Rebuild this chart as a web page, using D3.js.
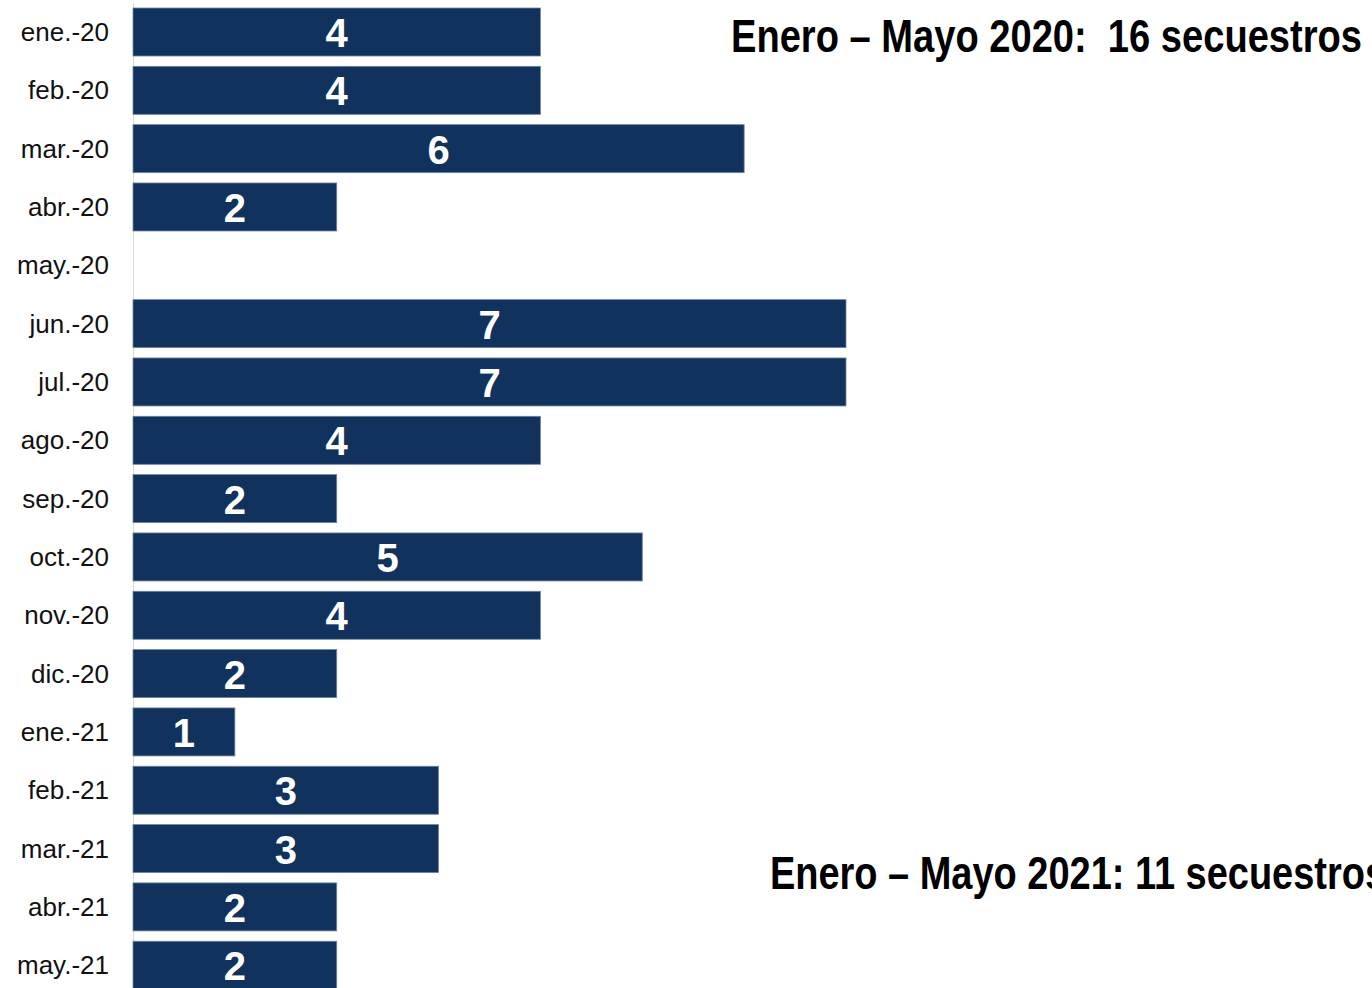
<!DOCTYPE html>
<html><head><meta charset="utf-8">
<script src="https://cdn.jsdelivr.net/npm/d3@7"></script>
<style>html,body{margin:0;padding:0;background:#fff;overflow:hidden}svg{display:block}</style>
</head><body><svg id="c" width="1372" height="988"></svg>
<script>
const months = ["ene.-20","feb.-20","mar.-20","abr.-20","may.-20","jun.-20","jul.-20","ago.-20","sep.-20","oct.-20","nov.-20","dic.-20","ene.-21","feb.-21","mar.-21","abr.-21","may.-21"];
const values = [4,4,6,2,0,7,7,4,2,5,4,2,1,3,3,2,2];
const titles = ["Enero – Mayo 2020:  16 secuestros","Enero – Mayo 2021: 11 secuestros"];

const svg = d3.select("#c");
const x = d3.scaleLinear().domain([0,7]).range([133,846]);
const y = d3.scaleBand().domain(months).range([2.84,994.4]).paddingInner(0.177).paddingOuter(0.0885);

svg.append("line").attr("x1",133.5).attr("x2",133.5).attr("y1",3).attr("y2",988)
  .attr("stroke","#d9d9d9").attr("stroke-width",1);

const g = svg.append("g");
g.selectAll("rect").data(months.map((m,i)=>({m,v:values[i]})).filter(d=>d.v>0)).join("rect")
  .attr("x",x(0)).attr("y",d=>y(d.m)).attr("width",d=>x(d.v)-x(0)).attr("height",y.bandwidth())
  .attr("fill","#10325c").attr("stroke","#6f84a3").attr("stroke-width",0.8);

g.selectAll("text.v").data(months.map((m,i)=>({m,v:values[i]})).filter(d=>d.v>0)).join("text")
  .attr("class","v").attr("x",d=>(x(0)+x(d.v))/2).attr("y",d=>y(d.m)+y.bandwidth()/2+15)
  .attr("text-anchor","middle").attr("fill","#fff")
  .style("font-family","'Liberation Sans',Arial,sans-serif").style("font-weight","bold").style("font-size","40px")
  .text(d=>d.v);

const yAxis = d3.axisLeft(y).tickSize(0).tickPadding(0);
const ax = svg.append("g").attr("transform","translate(109,0)").call(yAxis);
ax.select(".domain").remove();
ax.selectAll("text").attr("fill","#111").style("font-family","'Liberation Sans',Arial,sans-serif").style("font-size","26px").attr("dy","0.35em");

svg.append("text").attr("x",731).attr("y",52).text(titles[0])
  .attr("textLength",631).attr("lengthAdjust","spacingAndGlyphs")
  .style("white-space","pre").attr("xml:space","preserve")
  .style("font-family","'Liberation Sans Narrow','Arial Narrow','Liberation Sans',sans-serif").style("font-weight","bold").style("font-size","46px").attr("fill","#000");
svg.append("text").attr("x",770).attr("y",889).text(titles[1])
  .attr("textLength",616).attr("lengthAdjust","spacingAndGlyphs")
  .style("font-family","'Liberation Sans Narrow','Arial Narrow','Liberation Sans',sans-serif").style("font-weight","bold").style("font-size","46px").attr("fill","#000");
</script></body></html>
